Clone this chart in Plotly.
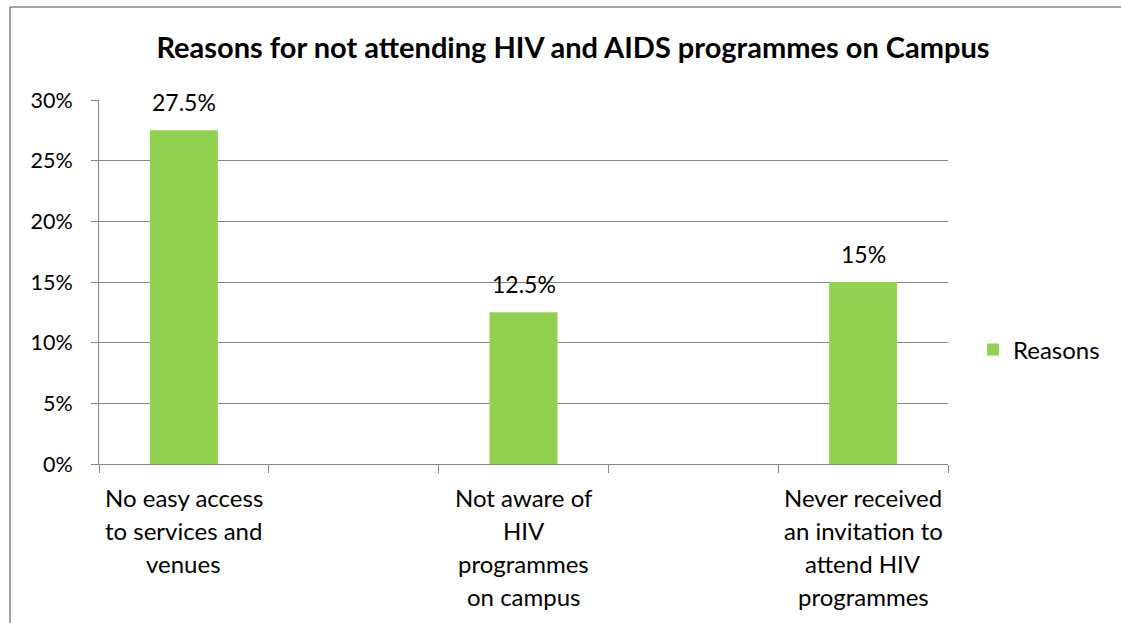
import plotly.graph_objects as go

# Survey data: reasons for not attending campus HIV/AIDS programmes
reasons = [
    ["No easy access", "to services and", "venues"],
    ["Not aware of", "HIV", "programmes", "on campus"],
    ["Never received", "an invitation to", "attend HIV", "programmes"],
]
slots = [0, 2, 4]          # category slots on the axis (alternate slots left empty)
shares = [27.5, 12.5, 15]  # percent
value_labels = ["27.5%", "12.5%", "15%"]
series_name = "Reasons"
title_text = "Reasons for not attending HIV and AIDS programmes on Campus"
y_ticks = [0, 5, 10, 15, 20, 25, 30]

W, H = 1121, 623
L, R, T, B = 99, 173, 100, 159
pw, ph = W - L - R, H - T - B

FONT = "Lato, Carlito, Calibri, sans-serif"
GREEN = "#92D050"
GRAY = "#868686"

fig = go.Figure()
fig.add_trace(go.Bar(
    x=slots, y=shares, name=series_name, width=0.4,
    marker=dict(color=GREEN, line=dict(width=0)),
    showlegend=True,
))

annotations = []
# value labels above the bars
for x, v, t in zip(slots, shares, value_labels):
    annotations.append(dict(
        x=x, y=v, xref="x", yref="y", text=t, showarrow=False,
        yanchor="bottom", yshift=12, font=dict(size=23, color="black", family=FONT),
    ))
# category labels, one line each, below the axis
line_gap = 33
for x, lines in zip(slots, reasons):
    for i, line in enumerate(lines):
        annotations.append(dict(
            x=x, y=0, xref="x", yref="paper", text=line, showarrow=False,
            yanchor="middle", yshift=-33 - i * line_gap,
            font=dict(size=24, color="black", family=FONT),
        ))

# chart-area frame (top and left edges visible)
def px_x(v):
    return (v - L) / pw


def px_y(v):
    return (H - B - v) / ph


frame = dict(type="line", xref="paper", yref="paper",
             line=dict(color=GRAY, width=1.5), layer="below")
shapes = [
    dict(frame, x0=px_x(10), x1=px_x(W + 50), y0=px_y(7), y1=px_y(7)),
    dict(frame, x0=px_x(10), x1=px_x(10), y0=px_y(7), y1=px_y(H + 50)),
]

fig.update_layout(
    width=W, height=H,
    margin=dict(l=L, r=R, t=T, b=B, autoexpand=False),
    paper_bgcolor="white", plot_bgcolor="white",
    font=dict(family=FONT, color="black", size=22),
    title=dict(text="<b>" + title_text + "</b>", x=573 / W, xanchor="center",
               y=1 - 48 / H, yanchor="middle",
               font=dict(size=29, family=FONT, color="black")),
    xaxis=dict(
        range=[-0.5, 4.5], showgrid=False, zeroline=False,
        showline=True, linecolor=GRAY, linewidth=1,
        tickvals=slots, ticktext=["", "", ""], ticks="",
        minor=dict(tickvals=[-0.5, 0.5, 1.5, 2.5, 3.5, 4.5], ticks="outside",
                   ticklen=8, tickcolor=GRAY, tickwidth=1, showgrid=False),
        fixedrange=True,
    ),
    yaxis=dict(
        range=[0, 30], tickvals=y_ticks, ticktext=[f"{v}%" for v in y_ticks],
        showgrid=True, gridcolor=GRAY, gridwidth=1, zeroline=False,
        showline=True, linecolor=GRAY, linewidth=1,
        ticks="outside", ticklen=7, tickcolor=GRAY,
        ticklabelstandoff=14,
        tickfont=dict(size=21.5, family=FONT, color="black"),
        fixedrange=True,
    ),
    legend=dict(x=px_x(973), xanchor="left", y=px_y(350), yanchor="middle",
                font=dict(size=24, family=FONT, color="black"),
                bgcolor="rgba(0,0,0,0)", itemwidth=30),
    annotations=annotations,
    shapes=shapes,
)

fig.write_html("out.html", config={"displayModeBar": False})
